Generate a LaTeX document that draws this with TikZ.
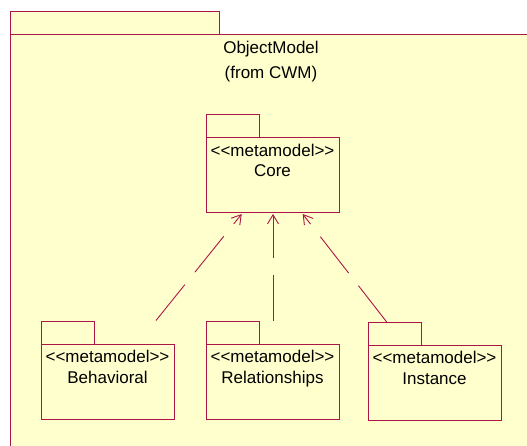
\documentclass[tikz,border=0pt]{standalone}
\usepackage{fontspec}
\setmainfont[Ligatures=NoCommon]{Liberation Sans}
\usetikzlibrary{arrows.meta}
\definecolor{umlline}{RGB}{172,22,70}
\definecolor{umlfill}{RGB}{255,255,206}
\newcommand{\stereo}[1]{<{}<#1>{}>}
\tikzset{
  pkg/.style={draw=umlline, fill=umlfill, line width=1pt},
  pkgtext/.style={font=\fontsize{17}{23}\selectfont, align=center, inner sep=0pt, text=black},
  dep/.style={draw=umlline, line width=0.9pt, dash pattern=on 46pt off 16pt,
    -{Straight Barb[length=9pt,width=11pt,line width=0.9pt]}},
}
\begin{document}
\begin{tikzpicture}[x=1pt,y=-1pt]
\useasboundingbox (0,0) rectangle (527,446);
\clip (0,0) rectangle (527,446);
% outer package
\draw[pkg] (10,12) rectangle (219,35);
\draw[pkg] (10,35) rectangle (540,460);
\node[pkgtext, anchor=base] (om) at (271,54) {ObjectModel};
\node[pkgtext, anchor=base] (from) at (271,79) {(from CWM)};
% Core
\draw[pkg] (206,115) rectangle (259,138);
\draw[pkg] (206,138) rectangle (339,213);
\node[inner sep=0pt, minimum width=133pt, minimum height=75pt] (core) at (272.5,175.5) {};
\node[pkgtext, anchor=base] (coreS) at (272.5,157) {\stereo{metamodel}};
\node[pkgtext, anchor=base] (coreN) at (272.5,177) {Core};
% Behavioral
\draw[pkg] (41,321) rectangle (94,344);
\draw[pkg] (41,344) rectangle (174,419);
\node[inner sep=0pt, minimum width=133pt, minimum height=98pt] (beh) at (107.5,370) {};
\node[pkgtext, anchor=base] (behS) at (107.5,362) {\stereo{metamodel}};
\node[pkgtext, anchor=base] (behN) at (107.5,383) {Behavioral};
% Relationships
\draw[pkg] (206,321) rectangle (259,344);
\draw[pkg] (206,344) rectangle (339,419);
\node[inner sep=0pt, minimum width=133pt, minimum height=98pt] (rel) at (272.5,370) {};
\node[pkgtext, anchor=base] (relS) at (272.5,362) {\stereo{metamodel}};
\node[pkgtext, anchor=base] (relN) at (272.5,383) {Relationships};
% Instance
\draw[pkg] (368,322.5) rectangle (421.5,345);
\draw[pkg] (368,345) rectangle (501,420);
\node[inner sep=0pt, minimum width=133pt, minimum height=98pt] (ins) at (434.5,371) {};
\node[pkgtext, anchor=base] (insS) at (434.5,363) {\stereo{metamodel}};
\node[pkgtext, anchor=base] (insN) at (434.5,384) {Instance};
% anchors for dependencies
\coordinate (b0) at (156,320.5);
\coordinate (b1) at (241.7,214);
\coordinate (r0) at (273,320.5);
\coordinate (r1) at (273,214);
\coordinate (i0) at (386.7,322);
\coordinate (i1) at (302.7,214);
\draw[dep] (b0) -- (b1);
\draw[dep] (r0) -- (r1);
\draw[dep] (i0) -- (i1);
\end{tikzpicture}
\end{document}
